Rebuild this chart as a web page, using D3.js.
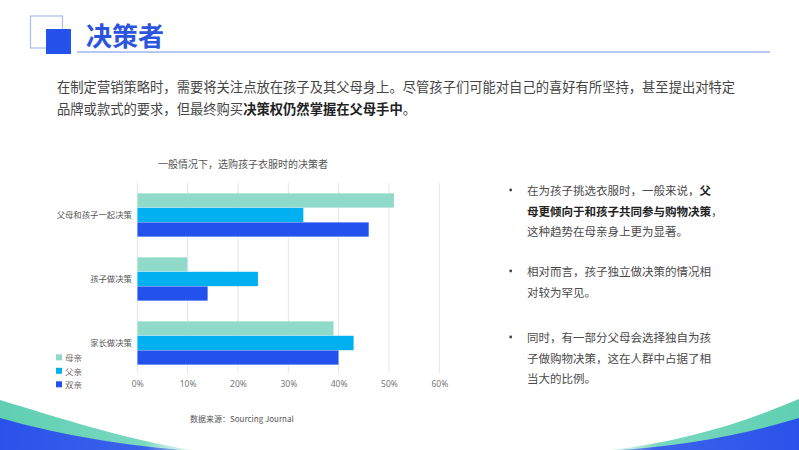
<!DOCTYPE html>
<html>
<head>
<meta charset="utf-8">
<script src="https://cdn.jsdelivr.net/npm/d3@7"></script>
<style>
  body { margin: 0; background: #fff; }
  svg { display: block; font-family: "Noto Sans CJK SC", "Noto Sans", sans-serif; }
</style>
</head>
<body>
<svg id="page" width="799" height="450"></svg>
<script>
// chart data
var categories = ["父母和孩子一起决策", "孩子做决策", "家长做决策"];
var seriesNames = ["母亲", "父亲", "双亲"];
var mother = [0.51, 0.10, 0.39];
var father = [0.33, 0.24, 0.43];
var both   = [0.46, 0.14, 0.40];
var xTicks = [0, 0.1, 0.2, 0.3, 0.4, 0.5, 0.6];
var colors = ["#8fdac8", "#00b0f0", "#2251ee"];

var svg = d3.select("#page");

// gradients for the corner waves
var defs = svg.append("defs");
function grad(id, x1, x2, stops) {
  var g = defs.append("linearGradient").attr("id", id)
    .attr("x1", x1).attr("y1", "0").attr("x2", x2).attr("y2", "0");
  stops.forEach(function(s) {
    g.append("stop").attr("offset", s[0]).attr("stop-color", s[1]).attr("stop-opacity", s[2]);
  });
}
grad("tealL", "0", "1", [[0, "#5fcfb0", 1], [0.75, "#7ad8c0", 1], [1, "#bfeee0", 0.4]]);
grad("blueL", "0", "1", [[0, "#2a52ea", 1], [0.8, "#3c62ea", 1], [1, "#6f8ef0", 0.6]]);
grad("tealR", "1", "0", [[0, "#5fcfb0", 1], [0.75, "#7ad8c0", 1], [1, "#bfeee0", 0.4]]);
grad("blueR", "1", "0", [[0, "#2a52ea", 1], [0.8, "#3c62ea", 1], [1, "#6f8ef0", 0.6]]);

// corner decoration
svg.append("path").attr("d", "M0,400 C60,418 120,438 192,450 L0,450 Z").attr("fill", "url(#tealL)");
svg.append("path").attr("d", "M0,418 C50,432 110,444 182,450 L0,450 Z").attr("fill", "url(#blueL)");
svg.append("path").attr("d", "M799,399 C740,424 680,442 610,450 L799,450 Z").attr("fill", "url(#tealR)");
svg.append("path").attr("d", "M799,418 C740,436 680,446 618,450 L799,450 Z").attr("fill", "url(#blueR)");

// header
svg.append("rect").attr("x", 30.5).attr("y", 16).attr("width", 32).attr("height", 32)
  .attr("fill", "none").attr("stroke", "#a9bcf2").attr("stroke-width", 1.2);
svg.append("rect").attr("x", 46).attr("y", 29).attr("width", 25).attr("height", 25).attr("fill", "#2452ea");
svg.append("text").attr("x", 86).attr("y", 46).attr("font-size", 26).attr("font-weight", "bold")
  .attr("fill", "#2c55dd").text("决策者");
svg.append("line").attr("x1", 77).attr("x2", 770).attr("y1", 52).attr("y2", 52)
  .attr("stroke", "#9fb4ef").attr("stroke-width", 1.5);

// intro paragraph
var intro = [
  [["在制定营销策略时，需要将关注点放在孩子及其父母身上。尽管孩子们可能对自己的喜好有所坚持，甚至提出对特定", false]],
  [["品牌或款式的要求，但最终购买", false], ["决策权仍然掌握在父母手中", true], ["。", false]]
];
function writeLines(lines, x, y0, dy, size, color, boldColor) {
  lines.forEach(function(segs, i) {
    var t = svg.append("text").attr("x", x).attr("y", y0 + i * dy)
      .attr("font-size", size).attr("fill", color).attr("dominant-baseline", "central");
    segs.forEach(function(s) {
      t.append("tspan").text(s[0])
        .attr("font-weight", s[1] ? "bold" : null)
        .attr("fill", s[1] ? boldColor : null);
    });
  });
}
writeLines(intro, 57, 86, 22, 13.3, "#454545", "#222");

// chart
var x = d3.scaleLinear().domain([0, 0.6]).range([137.3, 439.3]);
var y = d3.scaleBand().domain(categories).range([183, 375]).paddingInner(0.32).paddingOuter(0.16);
var ys = d3.scaleBand().domain(seriesNames).range([0, y.bandwidth()]);

svg.append("text").attr("x", 243).attr("y", 163).attr("text-anchor", "middle")
  .attr("font-size", 10).attr("fill", "#555").attr("dominant-baseline", "central")
  .text("一般情况下，选购孩子衣服时的决策者");

svg.append("g").selectAll("line").data(xTicks).enter().append("line")
  .attr("x1", function(d) { return x(d); }).attr("x2", function(d) { return x(d); })
  .attr("y1", 183).attr("y2", 373)
  .attr("stroke", "#e4e4e4").attr("stroke-width", 1);

var xAxis = svg.append("g").attr("transform", "translate(0,373)")
  .call(d3.axisBottom(x).tickValues(xTicks).tickFormat(d3.format(".0%")).tickSize(0).tickPadding(8));
xAxis.select(".domain").remove();
xAxis.selectAll("text").attr("font-size", 8.5).attr("fill", "#777")
  .attr("font-family", "\"Noto Sans\", sans-serif");

var yAxis = svg.append("g").attr("transform", "translate(132,0)")
  .call(d3.axisLeft(y).tickSize(0).tickPadding(0));
yAxis.select(".domain").remove();
yAxis.selectAll("text").attr("font-size", 8.4).attr("fill", "#555")
  .attr("font-family", "\"Noto Sans CJK SC\", sans-serif");

var table = categories.map(function(c, i) {
  return { cat: c, vals: [mother[i], father[i], both[i]] };
});
var groups = svg.append("g").selectAll("g").data(table).enter().append("g")
  .attr("transform", function(d) { return "translate(0," + y(d.cat) + ")"; });
groups.selectAll("rect").data(function(d) {
    return d.vals.map(function(v, j) { return { s: seriesNames[j], v: v, j: j }; });
  }).enter().append("rect")
  .attr("x", x(0))
  .attr("y", function(d) { return ys(d.s); })
  .attr("width", function(d) { return x(d.v) - x(0); })
  .attr("height", ys.bandwidth())
  .attr("fill", function(d) { return colors[d.j]; })
  .attr("stroke", "#fff").attr("stroke-opacity", 0.35).attr("stroke-width", 0.6);

// legend
var legend = svg.append("g").selectAll("g").data(seriesNames).enter().append("g")
  .attr("transform", function(d, i) { return "translate(56," + (357.3 + i * 13.5) + ")"; });
legend.append("rect").attr("x", 0).attr("y", -3).attr("width", 6).attr("height", 6)
  .attr("fill", function(d, i) { return colors[i]; });
legend.append("text").attr("x", 9).attr("y", 0).attr("dominant-baseline", "central")
  .attr("font-size", 8.5).attr("fill", "#666").text(function(d) { return d; });

svg.append("text").attr("x", 190).attr("y", 418).attr("dominant-baseline", "central")
  .attr("font-size", 8).attr("fill", "#555").text("数据来源：Sourcing Journal");

// bullets on the right
var bullets = [
  { y: 190, lines: [
      [["在为孩子挑选衣服时，一般来说，", false], ["父", true]],
      [["母更倾向于和孩子共同参与购物决策", true], ["，", false]],
      [["这种趋势在母亲身上更为显著。", false]] ] },
  { y: 271, lines: [
      [["相对而言，孩子独立做决策的情况相", false]],
      [["对较为罕见。", false]] ] },
  { y: 337, lines: [
      [["同时，有一部分父母会选择独自为孩", false]],
      [["子做购物决策，这在人群中占据了相", false]],
      [["当大的比例。", false]] ] }
];
bullets.forEach(function(b) {
  svg.append("circle").attr("cx", 510.7).attr("cy", b.y).attr("r", 1.4).attr("fill", "#444");
  writeLines(b.lines, 527, b.y, 20.5, 11.5, "#4a4a4a", "#222");
});
</script>
</body>
</html>
